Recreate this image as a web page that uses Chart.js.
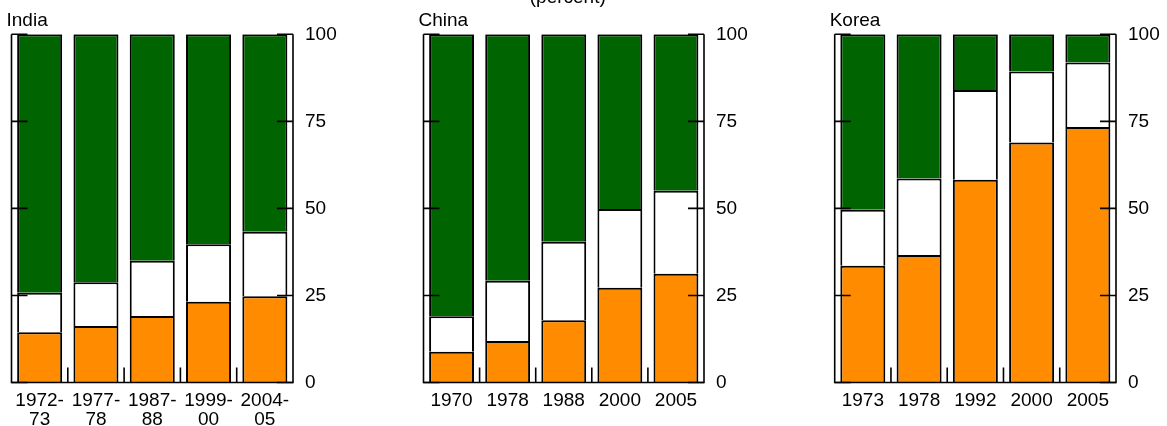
<!DOCTYPE html>
<html><head><meta charset="utf-8">
<script src="https://cdn.jsdelivr.net/npm/chart.js@4"></script>
<style>
html,body{margin:0;padding:0;background:#fff;overflow:hidden;width:1167px;height:426px;}
canvas{position:absolute;top:0;}
</style></head><body>
<canvas id="c0" width="344" height="426" style="left:0px"></canvas>
<canvas id="c1" width="344" height="426" style="left:412px"></canvas>
<canvas id="c2" width="344" height="426" style="left:823px"></canvas>
<script>
// ---- data (percent) ----
const yTickValues = [0, 25, 50, 75, 100];

const indiaLabels = [['1972-','73'], ['1977-','78'], ['1987-','88'], ['1999-','00'], ['2004-','05']];
const indiaLower  = [14.4, 16.2, 19.1, 23.2, 24.8];
const indiaMiddle = [11.4, 12.6, 15.9, 16.5, 18.5];
const indiaUpper  = [74.2, 71.2, 65.0, 60.3, 56.7];

const chinaLabels = ['1970', '1978', '1988', '2000', '2005'];
const chinaLower  = [8.8, 11.9, 17.9, 27.2, 31.2];
const chinaMiddle = [10.2, 17.3, 22.5, 22.6, 23.9];
const chinaUpper  = [81.0, 70.8, 59.6, 50.2, 44.9];

const koreaLabels = ['1973', '1978', '1992', '2000', '2005'];
const koreaLower  = [33.5, 36.6, 58.2, 68.9, 73.4];
const koreaMiddle = [16.1, 22.0, 25.8, 20.4, 18.5];
const koreaUpper  = [50.4, 41.4, 16.0, 10.7, 8.1];

const countryTitles = ['India', 'China', 'Korea'];
const unitLabel = '(percent)';

// ---- style ----
const FONT = '"Liberation Sans", Arial, Helvetica, sans-serif';
const ORANGE = '#FF8C00', WHITE = '#FFFFFF', GREEN = '#006400';
Chart.defaults.font.family = FONT;
Chart.defaults.color = '#000';

const framePlugin = {
  id: 'frame',
  afterDatasetsDraw(chart, args, opts) {
    const {ctx, chartArea: a, scales: {x, y}} = chart;
    ctx.save();
    ctx.strokeStyle = '#000';
    ctx.lineWidth = 1.6;
    ctx.beginPath();
    ctx.moveTo(a.left, a.top); ctx.lineTo(a.left, a.bottom);
    ctx.lineTo(a.right, a.bottom); ctx.lineTo(a.right, a.top);
    ctx.stroke();
    ctx.beginPath();
    for (const t of y.ticks) {
      const py = y.getPixelForValue(t.value);
      ctx.moveTo(a.left, py); ctx.lineTo(a.left + 16, py);
      ctx.moveTo(a.right, py); ctx.lineTo(a.right - 16, py);
    }
    for (let i = 0; i < x.ticks.length - 1; i++) {
      const px = (x.getPixelForTick(i) + x.getPixelForTick(i + 1)) / 2;
      ctx.moveTo(px, a.bottom); ctx.lineTo(px, a.bottom - 15);
    }
    ctx.stroke();
    ctx.fillStyle = '#000';
    ctx.font = '19px ' + FONT;
    ctx.textBaseline = 'alphabetic';
    ctx.textAlign = 'left';
    ctx.fillText(opts.title, a.left - 5, 26);
    if (opts.header) {
      ctx.textAlign = 'center';
      ctx.fillText(opts.header, (a.left + a.right) / 2 + 4, 3);
    }
    ctx.restore();
  }
};

function makeChart(id, labels, lower, middle, upper, title, header, padLeft, yWidth) {
  const ds = (data, color) => ({
    data, backgroundColor: color, borderColor: '#000',
    borderWidth: {top: 2, left: 2, right: 2, bottom: 0},
    borderSkipped: false, barPercentage: 0.8, categoryPercentage: 1.0
  });
  return new Chart(document.getElementById(id), {
    type: 'bar',
    data: {labels, datasets: [ds(lower, ORANGE), ds(middle, WHITE), ds(upper, GREEN)]},
    options: {
      responsive: false, animation: false, devicePixelRatio: 1,
      layout: {padding: {left: padLeft, top: 34.3, right: 0, bottom: 0}},
      plugins: {legend: {display: false}, tooltip: {enabled: false},
                frame: {title, header}},
      scales: {
        x: {
          stacked: true, offset: true,
          grid: {display: false}, border: {display: false},
          ticks: {font: {size: 19, lineHeight: 1.02}, padding: 0.5, maxRotation: 0, autoSkip: false},
          afterFit: s => { s.height = 43.5; }
        },
        y: {
          stacked: true, position: 'right', min: 0, max: 100,
          grid: {display: false}, border: {display: false},
          afterBuildTicks: s => { s.ticks = yTickValues.map(v => ({value: v})); },
          ticks: {font: {size: 19}, padding: 4},
          afterFit: s => { s.width = yWidth; }
        }
      }
    },
    plugins: [framePlugin]
  });
}

makeChart('c0', indiaLabels, indiaLower, indiaMiddle, indiaUpper, countryTitles[0], null, 11.5, 51);
makeChart('c1', chinaLabels, chinaLower, chinaMiddle, chinaUpper, countryTitles[1], unitLabel, 11.5, 52);
makeChart('c2', koreaLabels, koreaLower, koreaMiddle, koreaUpper, countryTitles[2], null, 11.7, 51);
</script>
</body></html>
